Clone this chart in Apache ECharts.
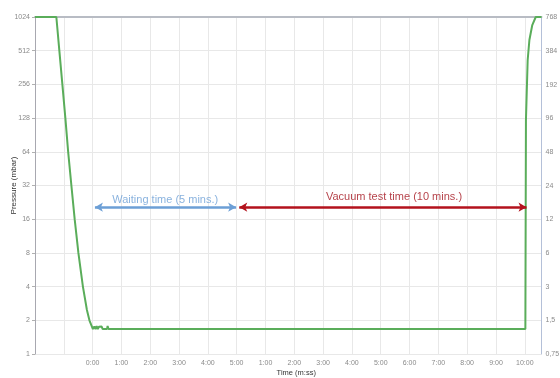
<!DOCTYPE html>
<html>
<head>
<meta charset="utf-8">
<script src="https://cdn.jsdelivr.net/npm/echarts@6/dist/echarts.min.js"></script>
<style>html,body{margin:0;padding:0;background:#fff}#c{width:560px;height:378px}</style>
</head>
<body>
<div id="c"></div>
<script>
// minutes relative to start of the waiting phase (0 = "0:00")
const timeMin = [-2.0, -1.259, -1.155, -1.05, -0.946, -0.849, -0.737, -0.623, -0.494, -0.337, -0.198, -0.111, 0.01,
  0.06, 0.1, 0.14, 0.18, 0.22, 0.27, 0.31, 0.35, 0.5, 0.52, 0.55,
  15.02, 15.04, 15.1, 15.16, 15.26, 15.38, 15.58];
const pressure = [1024, 1024, 512, 256, 128, 64, 32, 16, 8, 4, 2.47, 2, 1.67,
  1.76, 1.67, 1.77, 1.67, 1.75, 1.68, 1.76, 1.67, 1.67, 1.78, 1.67,
  1.67, 123, 423, 638, 868, 1024, 1024];
const xTickLabels = ['0:00','1:00','2:00','3:00','4:00','5:00','1:00','2:00','3:00','4:00','5:00','6:00','7:00','8:00','9:00','10:00'];
const rightMin = 0.75;
const waitArrow = [0.08, 4.98];
const vacuumArrow = [5.09, 15.06];
const arrowLevel = 20.5;
const waitLabel = 'Waiting time (5 mins.)';
const vacuumLabel = 'Vacuum test time (10 mins.)';
const waitLabelPos = [2.52, 24];
const vacuumLabelPos = [10.46, 25.5];

const chart = echarts.init(document.getElementById('c'));
const lineData = timeMin.map((t, i) => [t, pressure[i]]);
const labelFont = {fontFamily: 'Liberation Sans', fontSize: 7, color: '#8a8a8a'};

chart.setOption({
  animation: false,
  grid: {left: 35, right: 18.5, top: 17, bottom: 24, outerBoundsMode: 'none', containLabel: false},
  xAxis: [{
    type: 'value', min: -2, max: 15.58, interval: 1,
    name: 'Time (m:ss)', nameLocation: 'middle', nameGap: 15, nameMoveOverlap: false,
    nameTextStyle: {fontFamily: 'Liberation Sans', fontSize: 7.5, color: '#333', padding: [0, 0, 0, 16]},
    axisLine: {show: false}, axisTick: {show: false},
    axisLabel: Object.assign({}, labelFont, {margin: 6, showMaxLabel: false,
      formatter: v => (Number.isInteger(v) && v >= 0 && v < xTickLabels.length) ? xTickLabels[v] : ''}),
    splitLine: {show: true, lineStyle: {color: '#e8e8e8', width: 1}}
  }, {
    type: 'value', position: 'top', min: -2, max: 15.58,
    axisLine: {show: true, onZero: false, lineStyle: {color: '#b8bcc4', width: 2}},
    axisTick: {show: false}, axisLabel: {show: false}, splitLine: {show: false}
  }],
  yAxis: [{
    type: 'log', logBase: 2, min: 1, max: 1024, interval: 1, splitNumber: 10,
    name: 'Pressure (mbar)', nameLocation: 'middle', nameGap: 17, nameMoveOverlap: false,
    nameTextStyle: {fontFamily: 'Liberation Sans', fontSize: 8, color: '#333'},
    axisLine: {show: true, onZero: false, lineStyle: {color: '#a8a8b0'}},
    axisTick: {show: true, length: 3, lineStyle: {color: '#b0b0b0'}},
    axisLabel: Object.assign({}, labelFont, {margin: 5, formatter: v => String(Math.round(v))}),
    splitLine: {show: true, lineStyle: {color: '#e8e8e8'}}
  }, {
    type: 'log', logBase: 2, min: rightMin, max: 768, interval: 1, splitNumber: 10, position: 'right',
    axisLine: {show: true, onZero: false, lineStyle: {color: '#b4c0d8'}},
    axisTick: {show: false},
    axisLabel: Object.assign({}, labelFont, {margin: 4,
      formatter: v => String(rightMin * Math.pow(2, Math.round(Math.log2(v / rightMin)))).replace('.', ',')}),
    splitLine: {show: false}
  }],
  series: [{
    type: 'line', data: lineData, showSymbol: false, smooth: false,
    lineStyle: {color: '#5aad5a', width: 2}, z: 3
  }, {
    type: 'line', data: [], silent: true,
    markLine: {
      silent: true, symbol: ['arrow', 'arrow'], symbolSize: [7, 8],
      label: {show: false},
      data: [
        [{coord: [waitArrow[0], arrowLevel], lineStyle: {color: '#6c9fd6', width: 2.5, type: 'solid'}, itemStyle: {color: '#6c9fd6'}},
         {coord: [waitArrow[1], arrowLevel]}],
        [{coord: [vacuumArrow[0], arrowLevel], lineStyle: {color: '#b3121c', width: 2.5, type: 'solid'}, itemStyle: {color: '#b3121c'}},
         {coord: [vacuumArrow[1], arrowLevel]}]
      ]
    }
  }, {
    type: 'scatter', symbolSize: 0, silent: true,
    data: [
      {value: waitLabelPos, label: {show: true, formatter: waitLabel, color: '#6c9fd6'}},
      {value: vacuumLabelPos, label: {show: true, formatter: vacuumLabel, color: '#a3121c'}}
    ],
    label: {position: 'inside', fontFamily: 'Liberation Sans', fontSize: 11}
  }]
});
</script>
</body>
</html>
